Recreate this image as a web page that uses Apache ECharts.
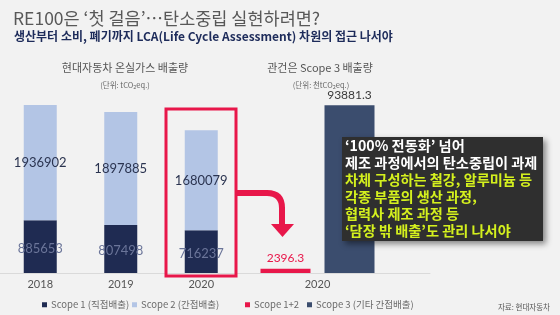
<!DOCTYPE html>
<html><head><meta charset="utf-8">
<script src="https://cdn.jsdelivr.net/npm/echarts@6/dist/echarts.min.js"></script>
<style>html,body{margin:0;padding:0;background:#f2f2f2}#c{width:560px;height:315px}</style>
</head><body><div id="c"></div>
<script>
var years = ['2018', '2019', '2020'];
var scope1 = [885653, 807498, 716237];
var scope2 = [1936902, 1897885, 1680079];
var rightCategory = ['2020'];
var scope12 = [2396.3];
var scope3 = [93881.3];
var legendNames = ['Scope 1 (직접배출)', 'Scope 2 (간접배출)', 'Scope 1+2', 'Scope 3 (기타 간접배출)'];

var KR = '"Noto Sans CJK KR", "Noto Sans", sans-serif';
var NUM = 'Lato, "Noto Sans CJK KR", sans-serif';
var RED = '#e8174a';
var chart = echarts.init(document.getElementById('c'), null, {renderer: 'canvas'});

function legendAt(name, left, color) {
  return {
    left: left, top: 295, itemWidth: 5, itemHeight: 5, icon: 'rect', itemGap: 0,
    data: [{name: name, itemStyle: {color: color}}],
    textStyle: {fontFamily: KR, fontSize: 9.5, color: '#6a6a6a', padding: [0, 0, 0, -1]}
  };
}

chart.setOption({
  backgroundColor: '#f2f2f2',
  animation: false,
  title: [
    {text: 'RE100은 ‘첫 걸음’⋯탄소중립 실현하려면?', left: 8, top: 5,
     textStyle: {fontFamily: KR, fontSize: 17.5, fontWeight: 'normal', color: '#585858'}},
    {text: '생산부터 소비, 폐기까지 LCA(Life Cycle Assessment) 차원의 접근 나서야', left: 9, top: 25,
     textStyle: {fontFamily: KR, fontSize: 12, fontWeight: 'bold', color: '#1d2b5a'}},
    {text: '현대자동차 온실가스 배출량', left: 120, top: 57, textAlign: 'center',
     textStyle: {fontFamily: KR, fontSize: 11, fontWeight: 'normal', color: '#555'}},
    {text: '(단위: tCO{s|2}eq.)', left: 120, top: 75, textAlign: 'center',
     textStyle: {fontFamily: KR, fontSize: 7.5, fontWeight: 'normal', color: '#666',
       rich: {s: {fontSize: 5.5, color: '#666', padding: [4, 0, 0, 0]}}}},
    {text: '관건은 Scope 3 배출량', left: 315, top: 57, textAlign: 'center',
     textStyle: {fontFamily: KR, fontSize: 11, fontWeight: 'normal', color: '#555'}},
    {text: '(단위: 천tCO{s|2}eq.)', left: 316, top: 75, textAlign: 'center',
     textStyle: {fontFamily: KR, fontSize: 7.5, fontWeight: 'normal', color: '#666',
       rich: {s: {fontSize: 5.5, color: '#666', padding: [4, 0, 0, 0]}}}},
    {text: '자료: 현대자동차', right: 5, top: 298,
     textStyle: {fontFamily: KR, fontSize: 7.5, fontWeight: 'normal', color: '#555'}}
  ],
  legend: [
    legendAt(legendNames[0], 37, '#1f2b52'),
    legendAt(legendNames[1], 127, '#b3c5e5'),
    legendAt(legendNames[2], 240, RED),
    legendAt(legendNames[3], 302, '#3b4d6e')
  ],
  grid: [
    {left: 0, width: 241.5, top: 94.4, height: 178.6},
    {left: 205, width: 225, top: 94.4, height: 178.6}
  ],
  xAxis: [
    {type: 'category', gridIndex: 0, data: years,
     axisLine: {lineStyle: {color: '#dadada'}}, axisTick: {show: false},
     axisLabel: {fontFamily: NUM, fontSize: 11, color: '#555', margin: 6}},
    {type: 'category', gridIndex: 1, data: rightCategory,
     axisLine: {lineStyle: {color: '#dadada'}}, axisTick: {show: false},
     axisLabel: {fontFamily: NUM, fontSize: 11, color: '#555', margin: 6}}
  ],
  yAxis: [
    {type: 'value', gridIndex: 0, min: 0, max: 3000000, show: false, splitLine: {show: false}},
    {type: 'value', gridIndex: 1, min: 0, max: 100000, show: false, splitLine: {show: false}}
  ],
  series: [
    {name: legendNames[0], type: 'bar', stack: 'a', xAxisIndex: 0, yAxisIndex: 0, data: scope1,
     barWidth: 33, itemStyle: {color: '#1f2b52'},
     label: {show: true, position: 'inside', fontFamily: NUM, fontSize: 13, color: '#6b7599', offset: [0, 2]}},
    {name: legendNames[1], type: 'bar', stack: 'a', xAxisIndex: 0, yAxisIndex: 0, data: scope2,
     barWidth: 33, itemStyle: {color: '#b3c5e5'},
     label: {show: true, position: 'inside', fontFamily: NUM, fontSize: 13, color: '#2b3450'}},
    {name: legendNames[2], type: 'bar', xAxisIndex: 1, yAxisIndex: 1, data: scope12,
     barWidth: 50, barGap: '28%', itemStyle: {color: RED},
     label: {show: true, position: 'top', distance: 5, fontFamily: NUM, fontSize: 12, color: RED}},
    {name: legendNames[3], type: 'bar', xAxisIndex: 1, yAxisIndex: 1, data: scope3,
     barWidth: 50, barGap: '28%', itemStyle: {color: '#3b4d6e'},
     label: {show: true, position: 'top', distance: 4, fontFamily: NUM, fontSize: 12, color: '#3a3a3a'}}
  ],
  graphic: [
    {type: 'rect', shape: {x: 166, y: 109, width: 70, height: 167},
     style: {fill: 'none', stroke: RED, lineWidth: 3}, z: 10},
    {type: 'line', shape: {x1: 237, y1: 193, x2: 268, y2: 193},
     style: {stroke: RED, lineWidth: 6}, z: 10},
    {type: 'bezierCurve', shape: {x1: 267, y1: 193, cpx1: 282, cpy1: 193, x2: 282, y2: 208},
     style: {fill: 'none', stroke: RED, lineWidth: 6}, z: 10},
    {type: 'line', shape: {x1: 282, y1: 207, x2: 282, y2: 227},
     style: {stroke: RED, lineWidth: 6}, z: 10},
    {type: 'polygon', shape: {points: [[271, 224], [294, 224], [282.5, 237]]},
     style: {fill: RED}, z: 10},
    {type: 'rect', shape: {x: 342, y: 137, width: 201, height: 104},
     style: {fill: '#2f2f2f', shadowBlur: 6, shadowOffsetX: 3, shadowOffsetY: 3, shadowColor: 'rgba(0,0,0,0.45)'}, z: 20},
    {type: 'text', x: 345, y: 137, z: 21,
     style: {
       text: '{w|‘100% 전동화’ 넘어}\n{w|제조 과정에서의 탄소중립이 과제}\n{y|차체 구성하는 철강, 알루미늄 등}\n{y|각종 부품의 생산 과정,}\n{y|협력사 제조 과정 등}\n{y|‘담장 밖 배출’도 관리 나서야}',
       font: 'bold 14.2px ' + KR,
       rich: {
         w: {fill: '#ffffff', fontFamily: KR, fontSize: 14.2, fontWeight: 'bold', lineHeight: 17},
         y: {fill: '#d4f01e', fontFamily: KR, fontSize: 14.2, fontWeight: 'bold', lineHeight: 17}
       }
     }}
  ]
});
</script></body></html>
